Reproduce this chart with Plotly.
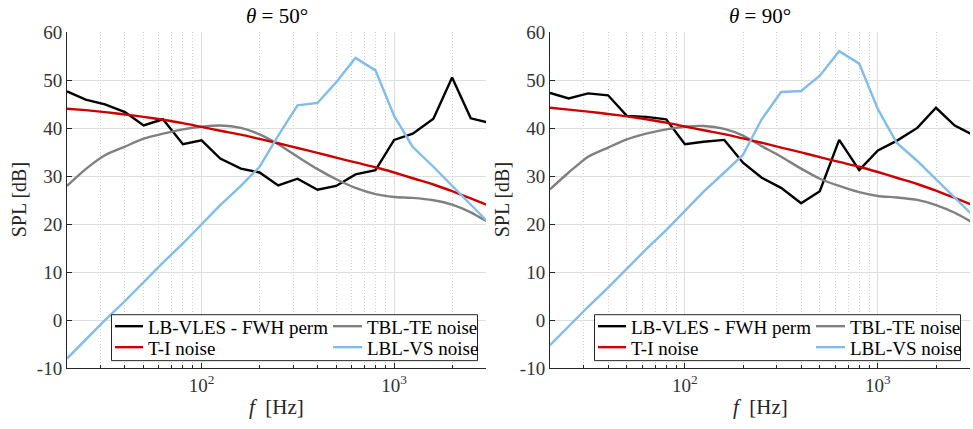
import plotly.graph_objects as go
from plotly.subplots import make_subplots

# 1/3-octave band centre frequencies [Hz]
freq = [20, 25, 31.5, 40, 50, 63, 80, 100, 125, 160, 200, 250, 315, 400,
        500, 630, 800, 1000, 1250, 1600, 2000, 2500, 3150]

# SPL [dB] at theta = 50 deg
lbvles_50 = [47.7, 46.0, 45.0, 43.4, 40.6, 41.9, 36.7, 37.5, 33.7, 31.6, 30.8, 28.1,
             29.5, 27.2, 28.0, 30.4, 31.3, 37.6, 38.9, 42.0, 50.6, 42.1, 41.1]
tblte_50 = [28.0, 31.5, 34.4, 36.2, 37.85, 38.9, 39.8, 40.35, 40.6, 40.1, 38.75, 36.7,
            34.1, 31.5, 29.4, 27.6, 26.3, 25.7, 25.5, 25.0, 24.1, 22.5, 20.2]
ti_50 = [44.1, 43.8, 43.4, 42.9, 42.4, 41.8, 41.1, 40.3, 39.5, 38.7, 37.8, 36.9,
         35.9, 34.9, 33.9, 32.9, 31.9, 30.8, 29.6, 28.3, 26.9, 25.4, 23.8]
lblvs_50 = [-8, -4, 0, 4, 8, 12, 16, 20, 24, 28, 32, 38.5,
            44.8, 45.3, 49.6, 54.7, 52.1, 42.6, 36.1, 32, 28, 24, 20]

# SPL [dB] at theta = 90 deg
lbvles_90 = [47.4, 46.25, 47.3, 46.9, 42.6, 42.4, 41.9, 36.7, 37.2, 37.6, 32.85, 29.7,
             27.6, 24.4, 26.9, 37.6, 31.3, 35.4, 37.4, 40.1, 44.3, 40.6, 38.5]
tblte_90 = [27.3, 30.8, 34.1, 36.0, 37.7, 38.9, 39.8, 40.35, 40.5, 39.9, 38.5, 36.3,
            34.1, 31.6, 29.5, 28.0, 26.7, 25.9, 25.6, 25.1, 24.0, 22.4, 20.2]
ti_90 = [44.3, 43.9, 43.5, 43.0, 42.5, 41.9, 41.2, 40.4, 39.6, 38.8, 37.9, 37.0,
         36.0, 35.0, 34.0, 33.0, 32.0, 30.9, 29.7, 28.4, 27.0, 25.5, 23.9]
lblvs_90 = [-5.2, -1.2, 2.8, 6.8, 10.8, 14.8, 18.8, 22.8, 26.8, 30.8, 34.5, 41.9,
            47.6, 47.8, 51.0, 56.1, 53.5, 44.0, 37.0, 33.2, 29.4, 25.5, 21.6]

titles = ["<i>θ</i> = 50°", "<i>θ</i> = 90°"]
names = ["LB-VLES - FWH perm", "TBL-TE noise", "T-I noise", "LBL-VS noise"]
colors = ["#000000", "#808080", "#CC0000", "#80BDEC"]
shapes_line = ["linear", "spline", "spline", "linear"]

y_ticks = [-10, 0, 10, 20, 30, 40, 50, 60]
y_ticktext = ["-10", "0", "10", "20", "30", "40", "50", "60"]
x_major = [100, 1000]
x_major_text = ["10<sup>2</sup>", "10<sup>3</sup>"]
x_minor = [20, 30, 40, 50, 60, 70, 80, 90, 200, 300, 400, 500, 600, 700, 800, 900, 2000, 3000]

FONT = "'Liberation Serif', 'DejaVu Serif', serif"
W, H = 973, 429
LW = 2.4


def px(x):
    """horizontal pixel -> paper fraction"""
    return x / W


def ly(y):
    """vertical pixel position -> layout pixel (vertical layout offset/scale)"""
    return (y - 10.5) / 0.952


def py(y):
    """vertical pixel -> paper fraction"""
    return 1 - ly(y) / H


fig = make_subplots(rows=1, cols=2)

panels = [
    [lbvles_50, tblte_50, ti_50, lblvs_50],
    [lbvles_90, tblte_90, ti_90, lblvs_90],
]

px_dom = [(67, 486), (550, 970)]
y_top, y_bot = 33, 369
ydom = [py(y_bot), py(y_top)]

for p, series in enumerate(panels):
    for k, vals in enumerate(series):
        fig.add_trace(go.Scatter(
            x=freq, y=vals, mode="lines", name=names[k],
            line=dict(color=colors[k], width=LW, shape=shapes_line[k], smoothing=0.6),
            showlegend=False,
        ), row=1, col=p + 1)

axis_common = dict(showline=True, linecolor="#262626", linewidth=1, mirror=False,
                   ticks="inside", ticklen=5, tickcolor="#262626",
                   tickfont=dict(family=FONT, size=19, color="#333333"),
                   zeroline=False)

for i in range(2):
    xa = "xaxis" if i == 0 else "xaxis2"
    ya = "yaxis" if i == 0 else "yaxis2"
    fig.layout[xa].update(
        type="log", range=[1.30103, 3.47712],
        domain=[px(px_dom[i][0]), px(px_dom[i][1])],
        tickvals=x_major, ticktext=x_major_text,
        showgrid=True, gridcolor="#dedede", gridwidth=1,
        minor=dict(tickvals=x_minor, showgrid=True, gridcolor="#d0d0d0",
                   griddash="1px,2px", gridwidth=1, ticks="inside", ticklen=3,
                   tickcolor="#262626"),
        **axis_common,
    )
    fig.layout[ya].update(
        range=[-10, 60], domain=ydom,
        tickvals=y_ticks, ticktext=y_ticktext,
        showgrid=True, gridcolor="#dedede", gridwidth=1,
        **axis_common,
    )

annotations = []
shapes = []

# legend layout (pixels relative to the panel's left edge): 2 columns x 2 rows
leg_box = (44.5, 410.5, 315.5, 361.5)
leg_col = [(48, 76, 79), (266, 295, 298)]   # sample start, sample end, text start
leg_row = [327, 348]

for i in range(2):
    x0, x1 = px_dom[i]
    cx = (x0 + x1) / 2
    annotations.append(dict(text=titles[i], x=px(cx), y=py(17), xref="paper", yref="paper",
                            showarrow=False, xanchor="center", yanchor="middle",
                            font=dict(family=FONT, size=21, color="#000000")))
    annotations.append(dict(text="<i>f</i>  [Hz]", x=px(cx), y=py(408), xref="paper", yref="paper",
                            showarrow=False, xanchor="center", yanchor="middle",
                            font=dict(family=FONT, size=21, color="#262626")))
    annotations.append(dict(text="SPL [dB]", x=px(x0 - 48), y=py(201), xref="paper", yref="paper",
                            showarrow=False, xanchor="center", yanchor="middle", textangle=-90,
                            font=dict(family=FONT, size=20, color="#262626")))
    # legend frame
    shapes.append(dict(type="rect", xref="paper", yref="paper",
                       x0=px(x0 + leg_box[0]), x1=px(x0 + leg_box[1]),
                       y0=py(leg_box[3]), y1=py(leg_box[2]),
                       line=dict(color="#262626", width=1), fillcolor="white", layer="above"))
    # legend entries
    for k in range(4):
        c, r = k % 2, k // 2
        s0, s1, t0 = leg_col[c]
        yc = leg_row[r]
        shapes.append(dict(type="line", xref="paper", yref="paper",
                           x0=px(x0 + s0), x1=px(x0 + s1), y0=py(yc), y1=py(yc),
                           line=dict(color=colors[k], width=LW), layer="above"))
        annotations.append(dict(text=names[k], x=px(x0 + t0), y=py(yc + 1), xref="paper", yref="paper",
                                showarrow=False, xanchor="left", yanchor="middle",
                                font=dict(family=FONT, size=19, color="#000000")))

fig.update_layout(
    width=W, height=H,
    margin=dict(l=0, r=0, t=0, b=0),
    paper_bgcolor="white", plot_bgcolor="white",
    annotations=annotations, shapes=shapes, showlegend=False,
)

fig.write_html("out.html")
